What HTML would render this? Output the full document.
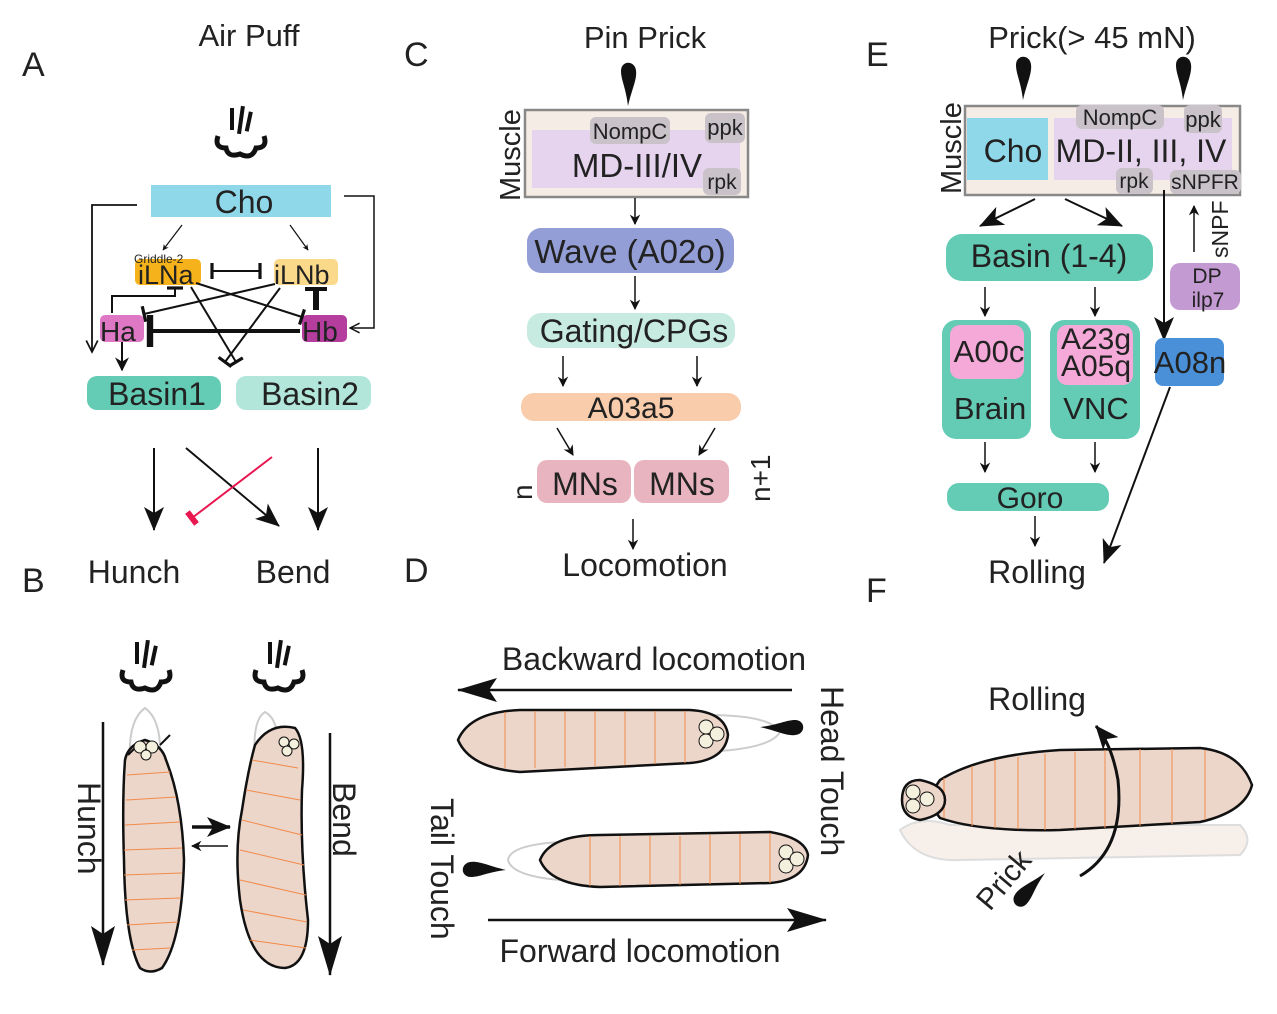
<!DOCTYPE html>
<html><head><meta charset="utf-8"><style>
html,body{margin:0;padding:0;background:#fff}
svg text{font-family:"Liberation Sans",Helvetica,Arial,sans-serif;fill:#222}
</style></head><body>
<svg width="1277" height="1009" viewBox="0 0 1277 1009" xmlns="http://www.w3.org/2000/svg">
<defs>
<marker id="ar" viewBox="0 0 10 10" refX="9" refY="5" markerWidth="7" markerHeight="7" orient="auto-start-reverse"><path d="M0,0 L10,5 L0,10 L3,5z" fill="#111"/></marker>
<marker id="am" viewBox="0 0 24 20" refX="23" refY="10" markerUnits="userSpaceOnUse" markerWidth="24" markerHeight="20" orient="auto"><path d="M0,0 L24,10 L0,20 L6,10z" fill="#111"/></marker>
<marker id="abig" viewBox="0 0 40 24" refX="39" refY="12" markerUnits="userSpaceOnUse" markerWidth="40" markerHeight="24" orient="auto"><path d="M0,0 L40,12 L0,24 L8,12z" fill="#111"/></marker>
<marker id="arb" viewBox="0 0 10 10" refX="9" refY="5" markerWidth="5" markerHeight="5" orient="auto"><path d="M0,0 L10,5 L0,10 L3,5z" fill="#111"/></marker>
<marker id="ao" viewBox="0 0 10 10" refX="9" refY="5" markerWidth="8" markerHeight="8" orient="auto"><path d="M1,1 L9,5 L1,9" fill="none" stroke="#111" stroke-width="1.2"/></marker>
<marker id="tb" viewBox="0 0 4 10" refX="2" refY="5" markerWidth="4" markerHeight="8" orient="auto"><rect x="1" y="0" width="2" height="10" fill="#111"/></marker>
<marker id="tr" viewBox="0 0 4 10" refX="2" refY="5" markerUnits="userSpaceOnUse" markerWidth="6" markerHeight="24" orient="auto"><rect x="0" y="0" width="4" height="10" fill="#e8174f"/></marker>
<g id="puff" fill="none" stroke="#111">
<path d="M-22,2 q-4,12 8,12 q2,10 14,6 q12,6 16,-6 q12,0 8,-12" stroke-width="5"/>
<rect x="-10" y="-26" width="4" height="22" fill="#111" stroke="none"/>
<rect x="-3" y="-28" width="4" height="28" fill="#111" stroke="none" transform="rotate(8)"/>
<rect x="4" y="-24" width="4" height="20" fill="#111" stroke="none" transform="rotate(12)"/>
</g>
<path id="drop" d="M0,0 C-4,18 -11,30 -7,39 C-3,46 7,44 7,35 C7,26 2,18 0,0z" fill="#111"/>
</defs>

<g font-size="34">
<text x="22" y="76">A</text><text x="22" y="592">B</text>
<text x="404" y="66">C</text><text x="404" y="582">D</text>
<text x="866" y="66">E</text><text x="866" y="602">F</text>
</g>

<!-- Panel A -->
<text x="249" y="46" font-size="31" text-anchor="middle">Air Puff</text>
<use href="#puff" x="240" y="134"/>
<rect x="151" y="185" width="180" height="32" fill="#8fd8ea"/>
<text x="244" y="213" font-size="32" text-anchor="middle">Cho</text>
<rect x="135" y="259" width="66" height="26" rx="5" fill="#f6b21a"/>
<text x="138" y="284" font-size="27">iLNa</text>
<text x="134" y="263" font-size="12">Griddle-2</text>
<rect x="274" y="259" width="64" height="26" rx="5" fill="#fbd98a"/>
<text x="274" y="284" font-size="27">iLNb</text>
<rect x="100" y="315" width="44" height="27" rx="5" fill="#de78c5"/>
<text x="100" y="341" font-size="28">Ha</text>
<rect x="302" y="315" width="45" height="27" rx="5" fill="#b43d9e"/>
<text x="302" y="341" font-size="28">Hb</text>
<rect x="87" y="376" width="134" height="34" rx="10" fill="#64cbb5"/>
<text x="157" y="405" font-size="32" text-anchor="middle">Basin1</text>
<rect x="236" y="376" width="135" height="34" rx="10" fill="#b2e6db"/>
<text x="310" y="405" font-size="32" text-anchor="middle">Basin2</text>
<g stroke="#111" fill="none" stroke-width="1.2">
<line x1="182" y1="225" x2="163" y2="250" marker-end="url(#arb)"/>
<line x1="290" y1="225" x2="308" y2="250" marker-end="url(#arb)"/>
<polyline points="137,205 92,205 92,352" stroke-width="1.8" marker-end="url(#ao)"/>
<polyline points="344,196 374,196 374,328 350,328" stroke-width="1.5" marker-end="url(#ao)"/>
</g>
<g stroke="#111" fill="none" stroke-width="2">
<line x1="212" y1="271" x2="260" y2="271" marker-start="url(#tb)" marker-end="url(#tb)"/>
<polyline points="112,313 112,296 175,296 175,288" marker-end="url(#tb)"/>
<line x1="316" y1="310" x2="316" y2="290" stroke-width="6"/>
<line x1="305" y1="289" x2="327" y2="289" stroke-width="4"/>
<line x1="300" y1="331" x2="150" y2="331" stroke-width="4" marker-end="url(#tb)"/>
<line x1="275" y1="284" x2="144" y2="314" marker-end="url(#tb)"/>
<line x1="196" y1="283" x2="302" y2="317" marker-end="url(#tb)"/>
<line x1="191" y1="287" x2="236" y2="362" marker-end="url(#tb)"/>
<line x1="280" y1="288" x2="225" y2="362" marker-end="url(#tb)"/>
<line x1="122" y1="342" x2="122" y2="370" marker-end="url(#ar)"/>
</g>
<g stroke="#111" stroke-width="2" fill="none">
<line x1="154" y1="448" x2="154" y2="530" marker-end="url(#am)"/>
<line x1="318" y1="448" x2="318" y2="530" marker-end="url(#am)"/>
<line x1="186" y1="448" x2="279" y2="526" marker-end="url(#am)"/>
</g>
<line x1="272" y1="457" x2="192" y2="518" stroke="#e8174f" stroke-width="2" marker-end="url(#tr)"/>
<text x="134" y="583" font-size="32" text-anchor="middle">Hunch</text>
<text x="293" y="583" font-size="32" text-anchor="middle">Bend</text>

<!-- Panel B -->
<use href="#puff" x="145" y="668"/>
<use href="#puff" x="278" y="668"/>
<g fill="none" stroke="#ccc" stroke-width="2">
<path d="M130,760 Q128,720 145,708 Q162,720 160,760"/>
<path d="M255,760 Q252,720 265,712 Q280,720 276,750"/>
</g>
<path d="M125,760 Q128,745 145,740 Q162,745 166,760 Q182,800 184,860 Q182,940 162,968 Q150,975 140,968 Q125,940 124,860 Q122,800 125,760z" fill="#ecd5c9" stroke="#111" stroke-width="2.5"/>
<path d="M128,755 L138,745 M160,745 L170,735" stroke="#111" stroke-width="2"/>
<circle cx="140" cy="747" r="6" fill="#f3f0de" stroke="#111"/><circle cx="152" cy="747" r="6" fill="#f3f0de" stroke="#111"/><circle cx="146" cy="755" r="5" fill="#f3f0de" stroke="#111"/>
<g stroke="#f28a4a" stroke-width="1">
<line x1="127" y1="775" x2="170" y2="772"/><line x1="126" y1="800" x2="176" y2="797"/><line x1="125" y1="825" x2="180" y2="822"/><line x1="124" y1="850" x2="182" y2="848"/><line x1="124" y1="875" x2="182" y2="873"/><line x1="125" y1="900" x2="181" y2="898"/><line x1="127" y1="925" x2="178" y2="922"/><line x1="132" y1="950" x2="170" y2="948"/>
</g>
<path d="M255,745 Q270,722 295,728 Q306,740 302,790 Q300,850 308,920 Q308,965 285,968 Q250,968 240,900 Q234,850 242,810 Q248,770 255,745z" fill="#ecd5c9" stroke="#111" stroke-width="2.5"/>
<circle cx="284" cy="742" r="5" fill="#f3f0de" stroke="#111"/><circle cx="294" cy="744" r="5" fill="#f3f0de" stroke="#111"/><circle cx="287" cy="751" r="5" fill="#f3f0de" stroke="#111"/>
<g stroke="#f28a4a" stroke-width="1">
<line x1="252" y1="760" x2="298" y2="768"/><line x1="246" y1="790" x2="300" y2="800"/><line x1="242" y1="820" x2="302" y2="835"/><line x1="240" y1="850" x2="304" y2="865"/><line x1="240" y1="880" x2="306" y2="895"/><line x1="243" y1="910" x2="307" y2="922"/><line x1="250" y1="940" x2="306" y2="948"/>
</g>
<g stroke="#111" stroke-width="2.5" fill="none">
<line x1="103" y1="722" x2="103" y2="965" marker-end="url(#abig)"/>
<line x1="330" y1="733" x2="330" y2="975" marker-end="url(#abig)"/>
<line x1="192" y1="827" x2="230" y2="827" stroke-width="3.5" marker-end="url(#am)"/>
<line x1="228" y1="846" x2="192" y2="846" stroke-width="1.5" marker-end="url(#ar)"/>
</g>
<text transform="translate(78,782) rotate(90)" font-size="32">Hunch</text>
<text transform="translate(333,782) rotate(90)" font-size="32">Bend</text>

<!-- Panel C -->
<text x="645" y="48" font-size="31" text-anchor="middle">Pin Prick</text>
<use href="#drop" transform="translate(628,106) rotate(180)"/>
<rect x="525" y="110" width="223" height="87" fill="#f6ece6" stroke="#888" stroke-width="2.5"/>
<rect x="532" y="130" width="208" height="58" fill="#e6d3ee"/>
<rect x="590" y="117" width="80" height="27" rx="6" fill="#c9c3c9"/>
<text x="630" y="139" font-size="22" text-anchor="middle">NompC</text>
<rect x="705" y="113" width="40" height="30" rx="6" fill="#c9c3c9"/>
<text x="725" y="135" font-size="22" text-anchor="middle">ppk</text>
<rect x="703" y="168" width="38" height="27" rx="6" fill="#c9c3c9"/>
<text x="722" y="189" font-size="21" text-anchor="middle">rpk</text>
<text x="637" y="177" font-size="33" text-anchor="middle">MD-III/IV</text>
<text transform="translate(520,201) rotate(-90)" font-size="29">Muscle</text>
<g stroke="#111" stroke-width="1.5" fill="none">
<line x1="635" y1="198" x2="635" y2="224" marker-end="url(#ar)"/>
<line x1="635" y1="276" x2="635" y2="309" marker-end="url(#ar)"/>
<line x1="563" y1="356" x2="563" y2="386" marker-end="url(#ar)"/>
<line x1="697" y1="356" x2="697" y2="386" marker-end="url(#ar)"/>
<line x1="557" y1="428" x2="573" y2="455" marker-end="url(#ar)"/>
<line x1="715" y1="428" x2="699" y2="455" marker-end="url(#ar)"/>
<line x1="633" y1="519" x2="633" y2="549" marker-end="url(#ar)"/>
</g>
<rect x="527" y="228" width="207" height="45" rx="14" fill="#939ed6"/>
<text x="630" y="263" font-size="33" text-anchor="middle">Wave (A02o)</text>
<rect x="527" y="313" width="208" height="35" rx="14" fill="#c8ebe1"/>
<text x="634" y="342" font-size="32" text-anchor="middle">Gating/CPGs</text>
<rect x="521" y="393" width="220" height="28" rx="13" fill="#f9ccac"/>
<text x="631" y="418" font-size="30" text-anchor="middle">A03a5</text>
<rect x="537" y="460" width="94" height="43" rx="10" fill="#e8b4bf"/>
<rect x="634" y="460" width="95" height="43" rx="10" fill="#e8b4bf"/>
<text x="585" y="495" font-size="32" text-anchor="middle">MNs</text>
<text x="682" y="495" font-size="32" text-anchor="middle">MNs</text>
<text transform="translate(532,500) rotate(-90)" font-size="28">n</text>
<text transform="translate(770,502) rotate(-90)" font-size="28">n+1</text>
<text x="645" y="576" font-size="32" text-anchor="middle">Locomotion</text>

<!-- Panel D -->
<text x="654" y="670" font-size="32" text-anchor="middle">Backward locomotion</text>
<line x1="792" y1="690" x2="458" y2="690" stroke="#111" stroke-width="2.5" marker-end="url(#abig)"/>
<path d="M700,715 Q770,714 780,732 Q770,750 700,752" fill="none" stroke="#ccc" stroke-width="2"/>
<path d="M458,740 Q470,712 520,710 L690,710 Q725,712 728,735 Q725,760 690,763 L520,772 Q470,768 458,740z" fill="#ecd5c9" stroke="#111" stroke-width="2.5"/>
<g stroke="#f28a4a"><line x1="505" y1="712" x2="505" y2="768"/><line x1="535" y1="711" x2="535" y2="768"/><line x1="565" y1="711" x2="565" y2="767"/><line x1="595" y1="711" x2="595" y2="766"/><line x1="625" y1="711" x2="625" y2="765"/><line x1="655" y1="711" x2="655" y2="764"/><line x1="685" y1="711" x2="685" y2="763"/></g>
<circle cx="706" cy="727" r="7" fill="#f3f0de" stroke="#111"/><circle cx="706" cy="741" r="7" fill="#f3f0de" stroke="#111"/><circle cx="717" cy="734" r="7" fill="#f3f0de" stroke="#111"/>
<use href="#drop" transform="translate(760,727) rotate(-90)"/>
<text transform="translate(821,686) rotate(90)" font-size="32">Head Touch</text>
<path d="M560,842 Q510,845 508,860 Q512,876 560,880" fill="none" stroke="#ccc" stroke-width="2"/>
<path d="M540,860 Q550,835 600,835 L770,832 Q805,838 808,855 Q805,880 770,883 L600,887 Q550,885 540,860z" fill="#ecd5c9" stroke="#111" stroke-width="2.5"/>
<g stroke="#f28a4a"><line x1="590" y1="836" x2="590" y2="886"/><line x1="620" y1="836" x2="620" y2="886"/><line x1="650" y1="836" x2="650" y2="885"/><line x1="680" y1="836" x2="680" y2="885"/><line x1="710" y1="835" x2="710" y2="884"/><line x1="740" y1="834" x2="740" y2="884"/><line x1="770" y1="833" x2="770" y2="883"/></g>
<circle cx="786" cy="852" r="7" fill="#f3f0de" stroke="#111"/><circle cx="786" cy="866" r="7" fill="#f3f0de" stroke="#111"/><circle cx="797" cy="859" r="7" fill="#f3f0de" stroke="#111"/>
<use href="#drop" transform="translate(506,870) rotate(90)"/>
<text transform="translate(431,798) rotate(90)" font-size="32">Tail Touch</text>
<line x1="488" y1="920" x2="826" y2="920" stroke="#111" stroke-width="2.5" marker-end="url(#abig)"/>
<text x="640" y="962" font-size="32" text-anchor="middle">Forward locomotion</text>

<!-- Panel E -->
<text x="1092" y="48" font-size="31" text-anchor="middle">Prick(&gt; 45 mN)</text>
<use href="#drop" transform="translate(1023,100) rotate(180)"/>
<use href="#drop" transform="translate(1183,100) rotate(180)"/>
<rect x="965" y="106" width="275" height="89" fill="#f6ece6" stroke="#888" stroke-width="2.5"/>
<rect x="967" y="118" width="81" height="62" fill="#8fd8ea"/>
<rect x="1054" y="118" width="178" height="62" fill="#e6d3ee"/>
<rect x="1076" y="105" width="88" height="24" rx="6" fill="#c9c3c9"/>
<text x="1120" y="125" font-size="22" text-anchor="middle">NompC</text>
<rect x="1184" y="105" width="38" height="28" rx="6" fill="#c9c3c9"/>
<text x="1203" y="127" font-size="22" text-anchor="middle">ppk</text>
<text x="1013" y="162" font-size="32" text-anchor="middle">Cho</text>
<text x="1141" y="162" font-size="32" text-anchor="middle">MD-II, III, IV</text>
<rect x="1116" y="168" width="37" height="26" rx="6" fill="#c9c3c9"/>
<text x="1134" y="188" font-size="21" text-anchor="middle">rpk</text>
<rect x="1170" y="170" width="71" height="24" rx="6" fill="#c9c3c9"/>
<text x="1205" y="189" font-size="21" text-anchor="middle">sNPFR</text>
<text transform="translate(961,194) rotate(-90)" font-size="29">Muscle</text>
<g stroke="#111" fill="none" stroke-width="2">
<line x1="1035" y1="199" x2="980" y2="226" marker-end="url(#am)"/>
<line x1="1065" y1="199" x2="1122" y2="226" marker-end="url(#am)"/>
<line x1="985" y1="287" x2="985" y2="316" stroke-width="1.5" marker-end="url(#ar)"/>
<line x1="1095" y1="287" x2="1095" y2="316" stroke-width="1.5" marker-end="url(#ar)"/>
<line x1="1164" y1="190" x2="1164" y2="340" marker-end="url(#am)"/>
<line x1="1194" y1="252" x2="1194" y2="206" stroke-width="1.5" marker-end="url(#ar)"/>
<line x1="985" y1="442" x2="985" y2="472" stroke-width="1.5" marker-end="url(#ar)"/>
<line x1="1095" y1="442" x2="1095" y2="472" stroke-width="1.5" marker-end="url(#ar)"/>
<line x1="1035" y1="516" x2="1035" y2="546" stroke-width="1.5" marker-end="url(#ar)"/>
<line x1="1170" y1="387" x2="1104" y2="563" marker-end="url(#am)"/>
</g>
<rect x="946" y="234" width="207" height="47" rx="16" fill="#64cbb5"/>
<text x="1049" y="267" font-size="32" text-anchor="middle">Basin (1-4)</text>
<text transform="translate(1228,258) rotate(-90)" font-size="23">sNPF</text>
<rect x="1170" y="263" width="70" height="47" rx="10" fill="#c39ad2"/>
<text x="1207" y="283" font-size="21" text-anchor="middle">DP</text>
<text x="1208" y="307" font-size="21" text-anchor="middle">ilp7</text>
<rect x="942" y="320" width="89" height="119" rx="14" fill="#64cbb5"/>
<rect x="950" y="325" width="74" height="54" rx="10" fill="#f4a9d8"/>
<text x="989" y="362" font-size="31" text-anchor="middle">A00c</text>
<text x="990" y="419" font-size="31" text-anchor="middle">Brain</text>
<rect x="1050" y="320" width="90" height="119" rx="14" fill="#64cbb5"/>
<rect x="1057" y="325" width="76" height="60" rx="10" fill="#f4a9d8"/>
<text x="1096" y="349" font-size="30" text-anchor="middle">A23g</text>
<text x="1096" y="376" font-size="30" text-anchor="middle">A05q</text>
<text x="1096" y="419" font-size="31" text-anchor="middle">VNC</text>
<rect x="1155" y="338" width="69" height="48" rx="8" fill="#4a90d8"/>
<text x="1190" y="373" font-size="31" text-anchor="middle">A08n</text>
<rect x="947" y="483" width="162" height="28" rx="12" fill="#64cbb5"/>
<text x="1030" y="508" font-size="30" text-anchor="middle">Goro</text>
<text x="1037" y="583" font-size="32" text-anchor="middle">Rolling</text>

<!-- Panel F -->
<text x="1037" y="710" font-size="32" text-anchor="middle">Rolling</text>
<path d="M900,830 Q920,815 950,825 L1240,825 Q1255,840 1240,855 L960,860 Q915,862 900,830z" fill="#f6efea" stroke="#ddd" stroke-width="2"/>
<path d="M940,780 Q980,755 1060,750 L1200,748 Q1240,752 1252,785 Q1245,812 1200,822 L1060,830 Q980,832 940,818 Q925,800 940,780z" fill="#ecd5c9" stroke="#111" stroke-width="2.5"/>
<g stroke="#f28a4a"><line x1="944" y1="778" x2="944" y2="818"/><line x1="972" y1="766" x2="972" y2="826"/><line x1="995" y1="760" x2="995" y2="828"/><line x1="1018" y1="757" x2="1018" y2="829"/><line x1="1045" y1="754" x2="1045" y2="830"/><line x1="1075" y1="752" x2="1075" y2="829"/><line x1="1105" y1="750" x2="1105" y2="828"/><line x1="1140" y1="749" x2="1140" y2="826"/><line x1="1172" y1="749" x2="1172" y2="824"/><line x1="1205" y1="750" x2="1205" y2="820"/></g>
<path d="M902,800 Q902,780 920,780 Q945,785 945,800 Q945,815 920,820 Q902,817 902,800z" fill="#ecd5c9" stroke="#111" stroke-width="2.5"/>
<circle cx="913" cy="792" r="7" fill="#f3f0de" stroke="#111"/><circle cx="913" cy="806" r="7" fill="#f3f0de" stroke="#111"/><circle cx="927" cy="799" r="7" fill="#f3f0de" stroke="#111"/>
<path d="M1080,876 Q1125,850 1118,780 Q1112,745 1096,726" fill="none" stroke="#111" stroke-width="3" marker-end="url(#am)"/>
<use href="#drop" transform="translate(1045,873) rotate(42)"/>
<text transform="translate(990,912) rotate(-50)" font-size="30">Prick</text>
</svg>
</body></html>
